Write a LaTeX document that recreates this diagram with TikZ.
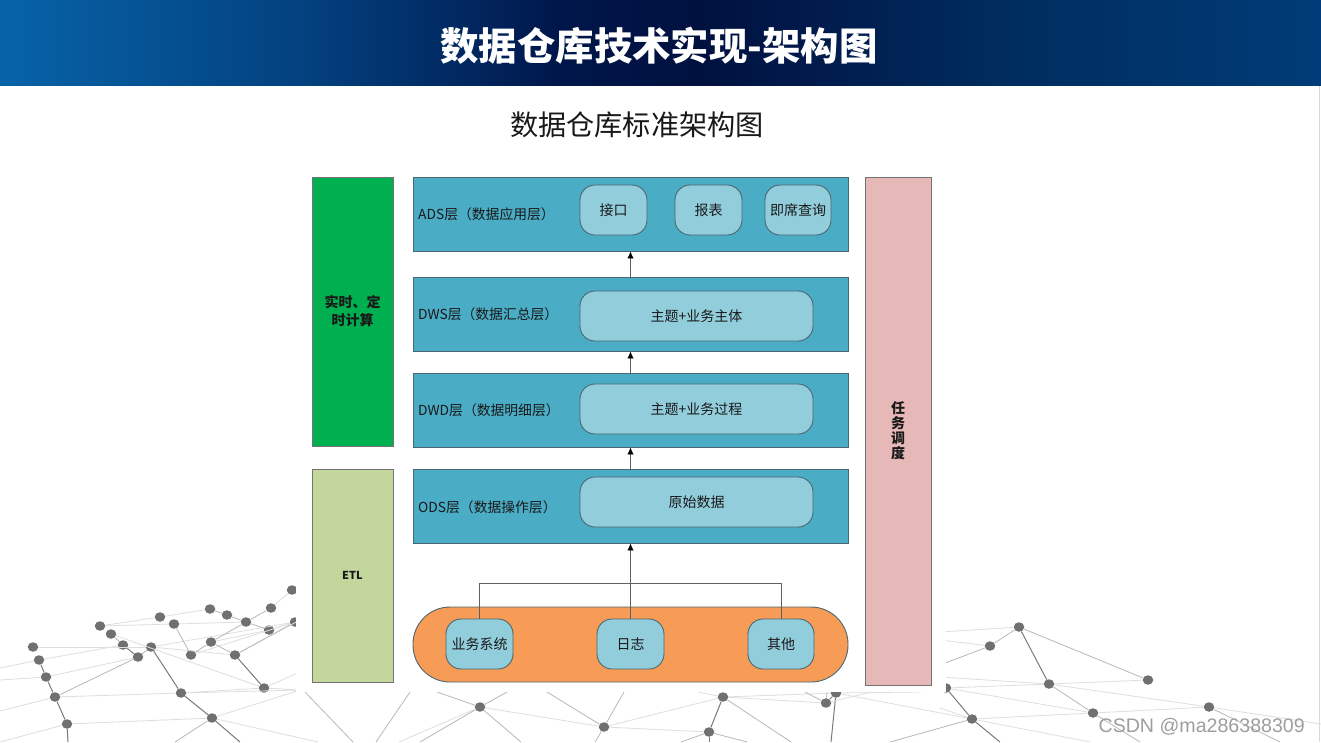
\documentclass[tikz,border=0pt]{standalone}
\usepackage{fontspec}
\setmainfont{Noto Sans CJK SC}
\newfontfamily\wmfont{Liberation Sans}
\usetikzlibrary{arrows.meta,shapes.geometric}
\definecolor{c0}{HTML}{0763A8}
\definecolor{c1}{HTML}{03417F}
\definecolor{c2}{HTML}{012A63}
\definecolor{c3}{HTML}{00164A}
\definecolor{c4}{HTML}{00113F}
\definecolor{c5}{HTML}{011E50}
\definecolor{c6}{HTML}{002C5E}
\definecolor{c7}{HTML}{003C78}
\definecolor{layerfill}{HTML}{4BACC6}
\definecolor{innerfill}{HTML}{92CDDC}
\definecolor{srcfill}{HTML}{F79C56}
\definecolor{edgeline}{HTML}{4A6670}
\definecolor{dotgray}{HTML}{707070}
\pgfdeclarehorizontalshading{hdr}{100bp}{
 color(0bp)=(c0); color(25bp)=(c0); color(36.4bp)=(c1); color(42bp)=(c2);
 color(46.2bp)=(c3); color(51.5bp)=(c4); color(57.2bp)=(c5); color(62.8bp)=(c6);
 color(75bp)=(c7); color(100bp)=(c7)}
\tikzset{
 x=1pt,y=-1pt,
 boxbase/.style={draw=edgeline,line width=0.9pt,inner sep=0pt,font=\fontsize{14}{16}\selectfont,text=black!90},
 layer/.style={boxbase,fill=layerfill},
 inner/.style={boxbase,fill=innerfill,rounded corners=15pt},
 sidebox/.style={boxbase,draw=black!55,font=\fontsize{14}{18}\selectfont\bfseries,align=center},
 layerlabel/.style={anchor=west,inner sep=0pt,font=\fontsize{13.8}{16}\selectfont,text=black!90},
 flow/.style={draw=black!62,line width=0.9pt},
 flowtip/.style={-{Latex[length=7pt,width=6.5pt,black]}},
 dot/.style={ellipse,fill=dotgray,inner sep=0pt,minimum width=10.5pt,minimum height=9.5pt},
 pale/.style={draw=black!13,line width=0.8pt},
 mid/.style={draw=black!28,line width=0.8pt},
 dark/.style={draw=black!52,line width=1pt},
}
\newcommand{\boxat}[7]{% name, x0, y0, x1, y1, style, text
 \pgfmathsetmacro{\bw}{#4-#2}\pgfmathsetmacro{\bh}{#5-#3}
 \pgfmathsetmacro{\bx}{(#2+#4)/2}\pgfmathsetmacro{\by}{(#3+#5)/2}
 \node[#6,minimum width=\bw pt,minimum height=\bh pt] (#1) at (\bx,\by) {#7};}
\begin{document}
\begin{tikzpicture}
\useasboundingbox (0,0) rectangle (1321,742);
\clip (0,0) rectangle (1321,742);
\fill[white] (0,0) rectangle (1321,742);
% --- network: dots
\foreach \n/\px/\py in {a1/33/647,a2/39/660,a3/46/677,a4/55/697,a5/67/724,
 b1/100/626,b2/111/634,b3/123/645,b4/138/657,b5/151/647,b6/181/693,b7/212/718,
 c1/160/617,c2/174/624,c3/191/655,c4/211/642,c5/235/655,c6/264/688,
 d1/210/609,d2/227/615,d3/246/622,d4/269/630,d5/271/608,d6/292/590,d7/295/622,
 e1/1019/627,e2/990/646,e3/1049/684,e4/1148/680,e5/1093/713,e6/1209/707,e7/972/719,e8/946/688,
 f1/480/707,f2/604/727,f3/723/697,f4/709/732,f5/826/703,f6/836/693}
 {\node[dot] (\n) at (\px,\py) {};}
% --- network: free ends
\foreach \n/\px/\py in {o1/0/668,o2/0/680,o3/0/711,o4/0/742,o5/68/742,o6/175/742,o7/240/742,o8/318/742,
 o9/300/690,o10/300/672,o11/300/620,o12/300/600,
 p1/940/665,p2/940/632,p3/940/640,p4/940/677,p5/1000/742,p6/940/708,p7/1090/742,p8/1140/742,p9/1280/742,p10/1321/724,p11/890/742,
 q1/305/692,q2/353/742,q3/410/692,q4/376/742,q5/437/692,q6/507/692,q7/521/742,q8/420/742,q9/399/742,
 q10/547/692,q11/624/692,q12/595/742,q13/791/742,q14/709/742,q15/681/742,q16/747/742,q17/698/692,
 q18/831/742,q19/805/692,q20/827/692,q21/871/692,q22/921/692}
 {\coordinate (\n) at (\px,\py);}
% --- network: edges
\foreach \s/\a/\b in {
 pale/a1/b5,pale/a2/b3,pale/a2/o1,pale/a3/b4,pale/a3/o2,pale/a4/o3,pale/a4/b6,pale/a5/b7,pale/a5/o4,
 mid/a4/b4,pale/b1/c1,pale/b1/c2,pale/c1/d1,pale/b2/c6,pale/c2/d3,pale/b5/c5,pale/b5/d7,pale/b6/c6,
 pale/b6/o9,pale/b7/o9,pale/b7/o8,pale/c3/d7,pale/c4/d4,pale/c6/o9,pale/c6/o10,pale/c5/o11,
 mid/b7/o6,mid/c2/c3,mid/c3/c4,mid/c4/c5,mid/c4/d3,mid/d3/d5,pale/d5/d6,mid/c5/d7,mid/d1/d2,mid/d2/d3,mid/d3/d4,pale/d4/d7,mid/b4/b5,mid/b2/b3,
 dark/a2/a3,dark/a3/a4,dark/a4/a5,dark/a5/o5,dark/b3/b4,dark/b5/b6,dark/b6/b7,dark/b7/o7,dark/c5/c6,
 mid/e1/e2,mid/e2/p1,dark/e1/e3,mid/e1/e4,pale/e1/p2,pale/e2/p3,pale/e3/e4,mid/e3/e5,pale/e3/e8,pale/e3/e6,
 pale/e3/p4,pale/e5/e6,pale/e5/e8,pale/e5/e7,dark/e8/e7,dark/e7/p5,mid/e7/p11,pale/e7/p6,pale/e7/p7,mid/e5/p8,mid/e6/p9,pale/e6/p10,
 mid/f1/q5,mid/f1/q6,mid/f1/q7,mid/f1/q8,pale/f1/q9,pale/f1/f2,mid/f2/q10,mid/f2/q11,mid/f2/q12,pale/f2/f3,pale/f2/f4,dark/f3/f4,mid/f3/q13,
 dark/f4/q14,mid/f4/q15,mid/f4/q16,pale/f3/q17,pale/f3/f5,pale/f3/f6,dark/f5/f6,dark/f6/q18,mid/f5/q19,mid/f5/q20,pale/f5/q21,pale/f6/q22,pale/f6/e7}
 {\draw[\s] (\a) -- (\b);}
\draw[mid] (q1) -- (q2);
\draw[mid] (q3) -- (q4);
% --- white panel and header
\fill[white] (296,86) rectangle (946,692);
\node[inner sep=0pt,outer sep=0pt,minimum width=1321pt,minimum height=85.6pt,shading=hdr,anchor=north west] (header) at (0,0) {};
\node[text=white,font=\fontsize{38.4}{40}\selectfont\bfseries] (title) at (659,46) {数据仓库技术实现-架构图};
\node[text=black!90,font=\fontsize{28.2}{30}\selectfont] (subtitle) at (637,125) {数据仓库标准架构图};
\draw[black!15] (1319.5,86) -- (1319.5,742);
% --- side boxes
\boxat{calc}{312}{177}{393}{446}{sidebox,fill={rgb,255:red,0;green,176;blue,80}}{实时、定\\时计算}
\boxat{etl}{312}{469}{393}{682}{sidebox,fill={rgb,255:red,195;green,214;blue,155},font=\fontsize{11}{13}\selectfont\bfseries}{ETL}
\boxat{sched}{865}{177}{931}{685}{sidebox,fill={rgb,255:red,230;green,185;blue,184},font=\fontsize{14}{15}\selectfont\bfseries}{任\\务\\调\\度}
% --- layers
\boxat{ads}{413}{177}{848}{251}{layer}{}
\boxat{dws}{413}{277}{848}{351}{layer}{}
\boxat{dwd}{413}{373}{848}{447}{layer}{}
\boxat{ods}{413}{469}{848}{543}{layer}{}
\node[boxbase,fill=srcfill,rounded corners=37pt,minimum width=435pt,minimum height=75pt] (src) at (630.5,644.5) {};
\node[layerlabel] (adsl) at (418,214) {ADS层（数据应用层）};
\node[layerlabel] (dwsl) at (418,314) {DWS层（数据汇总层）};
\node[layerlabel] (dwdl) at (418,410) {DWD层（数据明细层）};
\node[layerlabel] (odsl) at (418,507) {ODS层（数据操作层）};
% --- inner boxes
\boxat{api}{580}{185}{647}{235}{inner}{接口}
\boxat{report}{675}{185}{742}{235}{inner}{报表}
\boxat{query}{765}{185}{831}{235}{inner}{即席查询}
\boxat{subj}{580}{291}{813}{341}{inner}{主题+业务主体}
\boxat{proc}{580}{384}{813}{434}{inner}{主题+业务过程}
\boxat{raw}{580}{477}{813}{527}{inner}{原始数据}
\boxat{sys}{446}{619}{513}{669}{inner}{业务系统}
\boxat{log}{597}{619}{664}{669}{inner}{日志}
\boxat{other}{748}{619}{814}{669}{inner}{其他}
% --- connectors
\coordinate (bar) at (630.5,583);
\draw[flow,flowtip] (log.north) -- (ods.south);
\draw[flow] (sys.north) |- (bar) -| (other.north);
\draw[flow,flowtip] (ods.north) -- (dwd.south);
\draw[flow,flowtip] (dwd.north) -- (dws.south);
\draw[flow,flowtip] (dws.north) -- (ads.south);
% --- watermark
\node[text=black!38,inner sep=0pt,anchor=east,font=\wmfont\fontsize{19.6}{21}\selectfont] (wm) at (1305,726.5) {CSDN @ma286388309};
\end{tikzpicture}
\end{document}
